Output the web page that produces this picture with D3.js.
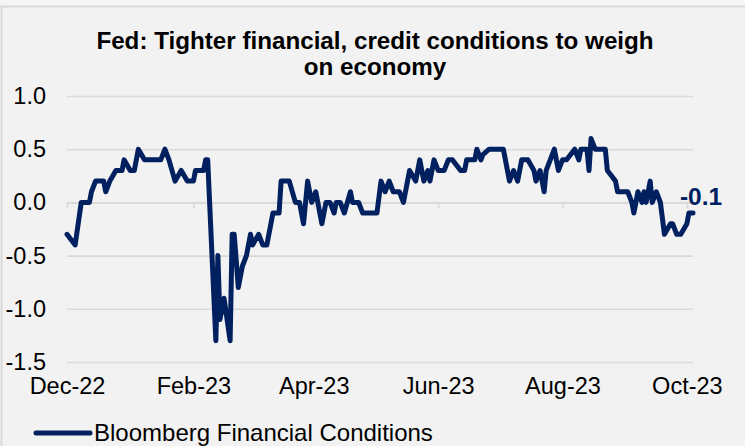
<!DOCTYPE html>
<html>
<head>
<meta charset="utf-8">
<title>Bloomberg Financial Conditions</title>
<script src="https://cdn.jsdelivr.net/npm/d3@7"></script>
<style>
  body { margin: 0; background: #f2f2f2; }
  svg { display: block; font-family: "Liberation Sans", Arial, sans-serif; }
</style>
</head>
<body>
<div id="container"></div>
<script>
// weekly-ish readings of the index
var dates = [
  "2022-12-01","2022-12-05","2022-12-08","2022-12-12","2022-12-13","2022-12-15","2022-12-19","2022-12-20",
  "2022-12-22","2022-12-25","2022-12-28","2022-12-29","2023-01-01","2023-01-03","2023-01-05","2023-01-08",
  "2023-01-16","2023-01-18","2023-01-20","2023-01-23","2023-01-26","2023-01-29","2023-02-01","2023-02-02",
  "2023-02-06","2023-02-07","2023-02-08","2023-02-12","2023-02-13","2023-02-14","2023-02-16","2023-02-19",
  "2023-02-20","2023-02-21","2023-02-23","2023-02-25","2023-02-27","2023-03-01","2023-03-02","2023-03-05",
  "2023-03-07","2023-03-09","2023-03-12","2023-03-15","2023-03-16","2023-03-20","2023-03-23","2023-03-25",
  "2023-03-27","2023-03-29","2023-03-31","2023-04-02","2023-04-05","2023-04-07","2023-04-09","2023-04-11",
  "2023-04-12","2023-04-14","2023-04-16","2023-04-19","2023-04-20","2023-04-23","2023-04-25","2023-05-02",
  "2023-05-04","2023-05-06","2023-05-08","2023-05-10","2023-05-13","2023-05-15","2023-05-16","2023-05-18",
  "2023-05-21","2023-05-23","2023-05-25","2023-05-27","2023-05-28","2023-05-30","2023-06-01","2023-06-04",
  "2023-06-06","2023-06-08","2023-06-12","2023-06-14","2023-06-15","2023-06-19","2023-06-20","2023-06-22",
  "2023-06-23","2023-06-26","2023-07-03","2023-07-05","2023-07-06","2023-07-08","2023-07-10","2023-07-12",
  "2023-07-15","2023-07-18","2023-07-19","2023-07-21","2023-07-23","2023-07-24","2023-07-26","2023-07-28",
  "2023-07-30","2023-08-01","2023-08-03","2023-08-05","2023-08-07","2023-08-09","2023-08-10","2023-08-13",
  "2023-08-14","2023-08-15","2023-08-17","2023-08-22","2023-08-23","2023-08-25","2023-08-27","2023-08-28",
  "2023-09-02","2023-09-04","2023-09-05","2023-09-07","2023-09-09","2023-09-10","2023-09-11","2023-09-13",
  "2023-09-14","2023-09-16","2023-09-18","2023-09-20","2023-09-23","2023-09-24","2023-09-26","2023-09-28",
  "2023-10-01","2023-10-02","2023-10-04"
];
var values = [
  -0.3,-0.4,0.0,0.0,0.1,0.2,0.2,0.1,
  0.2,0.3,0.3,0.4,0.3,0.3,0.5,0.4,
  0.4,0.5,0.4,0.2,0.3,0.2,0.2,0.3,
  0.3,0.4,0.4,-1.3,-0.5,-1.1,-0.9,-1.3,
  -0.3,-0.3,-0.8,-0.6,-0.5,-0.3,-0.4,-0.3,
  -0.4,-0.4,-0.1,-0.1,0.2,0.2,0.0,0.0,
  -0.2,0.2,0.0,0.1,-0.2,0.0,0.0,-0.1,
  0.0,0.0,-0.1,0.1,0.0,0.0,-0.1,-0.1,
  0.2,0.1,0.2,0.1,0.1,0.0,0.1,0.3,
  0.2,0.4,0.2,0.3,0.2,0.4,0.3,0.3,
  0.4,0.4,0.3,0.3,0.4,0.4,0.5,0.4,
  0.45,0.5,0.5,0.3,0.2,0.3,0.2,0.4,
  0.4,0.3,0.2,0.3,0.1,0.3,0.4,0.5,
  0.3,0.4,0.4,0.45,0.5,0.4,0.5,0.5,
  0.3,0.6,0.5,0.5,0.3,0.25,0.2,0.1,
  0.1,0.0,-0.1,0.1,0.0,0.1,0.0,0.2,
  0.0,0.1,0.0,-0.3,-0.2,-0.2,-0.3,-0.3,
  -0.2,-0.1,-0.1
];
var xTicks = ["2022-12-01","2023-02-01","2023-04-01","2023-06-01","2023-08-01","2023-10-01"];
var yTicks = [1.0, 0.5, 0.0, -0.5, -1.0, -1.5];
var xDomain = ["2022-12-01","2023-10-04"];
var seriesName = "Bloomberg Financial Conditions";
var lastLabel = "-0.1";

var W = 745, H = 446;
var navy = "#002060", grid = "#d9d9d9";
var parse = d3.timeParse("%Y-%m-%d");

var data = dates.map(function(d, i) { return {date: parse(d), v: values[i]}; });

var svg = d3.select("#container").append("svg")
    .attr("width", W)
    .attr("height", H);

svg.append("rect").attr("width", W).attr("height", H).attr("fill", "#f2f2f2");
svg.append("rect").attr("width", W).attr("height", 6).attr("fill", "#f5f5f5");
// frame edges
svg.append("line").attr("x1", 0).attr("x2", W).attr("y1", 6.5).attr("y2", 6.5)
    .attr("stroke", grid).attr("stroke-width", 2);
svg.append("line").attr("x1", 1.5).attr("x2", 1.5).attr("y1", 6).attr("y2", H)
    .attr("stroke", grid).attr("stroke-width", 2);

var x = d3.scaleTime().domain(xDomain.map(parse)).range([67, 693]);
var y = d3.scaleLinear().domain([-1.5, 1.0]).range([362, 96]);

// title
var title = svg.append("text")
    .attr("text-anchor", "middle")
    .attr("font-weight", "bold")
    .attr("font-size", 24.2)
    .attr("fill", "#000");
title.append("tspan").attr("x", 375).attr("y", 49).text("Fed: Tighter financial, credit conditions to weigh");
title.append("tspan").attr("x", 375).attr("y", 75).text("on economy");

// gridlines
svg.append("g")
    .attr("transform", "translate(67,0)")
    .call(d3.axisLeft(y).tickValues(yTicks).tickSize(-(693 - 67)).tickFormat(""))
    .call(function(g) { g.select(".domain").remove(); })
    .selectAll(".tick line").attr("stroke", grid).attr("stroke-width", 1.6);

// y labels (plain hyphen minus, like the source)
svg.append("g")
    .selectAll("text")
    .data(yTicks)
    .join("text")
    .attr("x", 46)
    .attr("y", function(d) { return y(d) + 8; })
    .attr("text-anchor", "end")
    .attr("font-size", 23.5)
    .attr("fill", "#000")
    .text(function(d) { return d.toFixed(1); });

// axis line on zero with tick marks
var xAx = svg.append("g")
    .attr("transform", "translate(0," + y(0) + ")")
    .call(d3.axisBottom(x).tickValues(xTicks.map(parse)).tickSize(6).tickSizeOuter(0).tickFormat(""));
xAx.select(".domain").attr("stroke", grid).attr("stroke-width", 1.6);
xAx.selectAll(".tick line").attr("stroke", grid).attr("stroke-width", 1.6);

// x labels at the bottom
var xLab = svg.append("g")
    .attr("transform", "translate(0,374)")
    .call(d3.axisBottom(x).tickValues(xTicks.map(parse)).tickSize(0).tickFormat(d3.timeFormat("%b-%y")));
xLab.select(".domain").remove();
xLab.selectAll(".tick text")
    .attr("font-size", 23.5)
    .attr("font-family", "Liberation Sans, Arial, sans-serif")
    .attr("fill", "#000");

// series
var line = d3.line()
    .x(function(d) { return x(d.date); })
    .y(function(d) { return y(d.v); });

svg.append("path")
    .datum(data)
    .attr("d", line)
    .attr("fill", "none")
    .attr("stroke", navy)
    .attr("stroke-width", 5)
    .attr("stroke-linejoin", "round")
    .attr("stroke-linecap", "round");

// last value label
var last = data[data.length - 1];
svg.append("text")
    .attr("x", x(last.date) + 8)
    .attr("y", y(last.v) - 8)
    .attr("text-anchor", "middle")
    .attr("font-weight", "bold")
    .attr("font-size", 24.5)
    .attr("fill", navy)
    .text(lastLabel);

// legend
svg.append("line")
    .attr("x1", 36).attr("x2", 90).attr("y1", 433).attr("y2", 433)
    .attr("stroke", navy).attr("stroke-width", 5).attr("stroke-linecap", "round");
svg.append("text")
    .attr("x", 94).attr("y", 441)
    .attr("font-size", 24)
    .attr("fill", "#000")
    .text(seriesName);
</script>
</body>
</html>
